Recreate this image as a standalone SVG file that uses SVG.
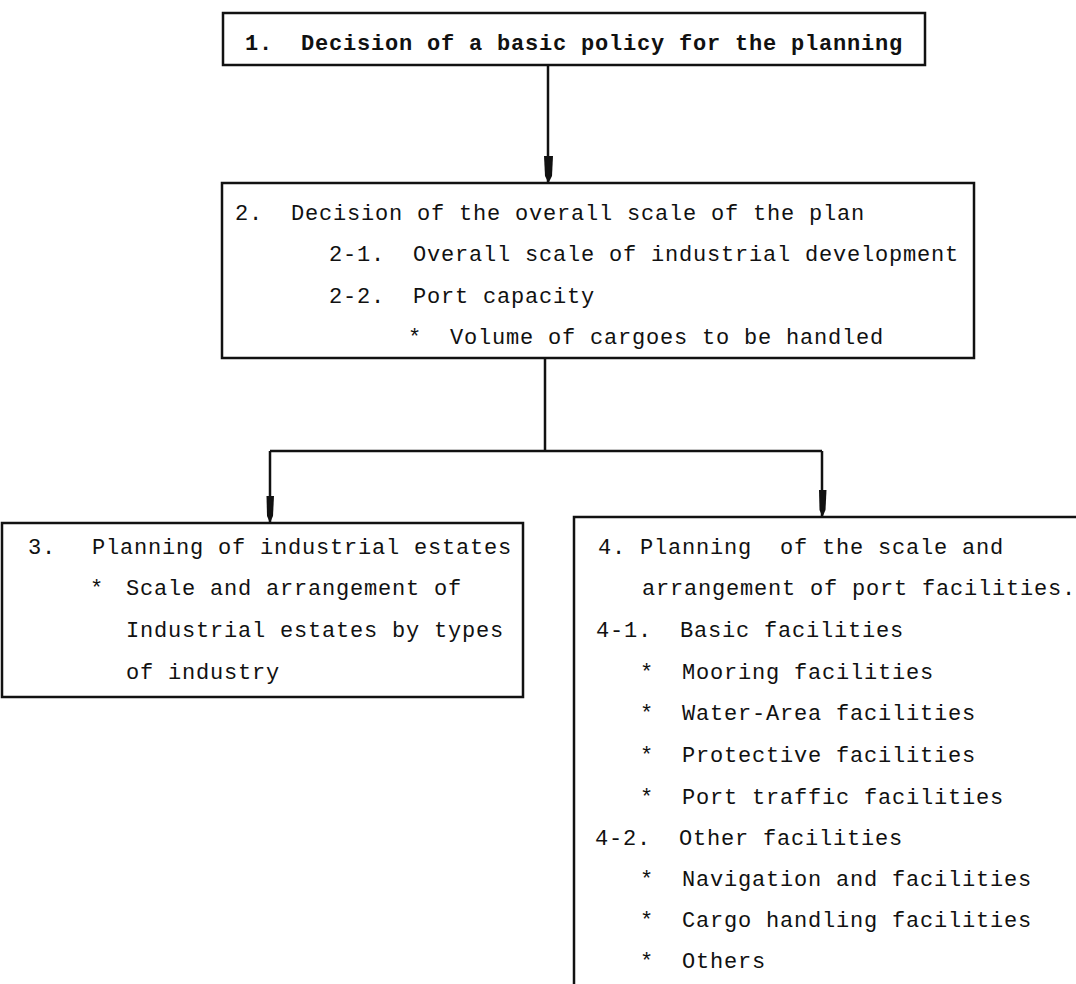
<svg xmlns="http://www.w3.org/2000/svg" width="1076" height="984" viewBox="0 0 1076 984">
<defs>
<style>
.box{fill:none;stroke:#111;stroke-width:2.5}
.con{fill:none;stroke:#111;stroke-width:2.5}
text{font-family:"Liberation Mono","DejaVu Sans Mono",monospace;font-size:22px;letter-spacing:0.8px;fill:#111}
.b{font-weight:bold}
</style>
<marker id="ah" viewBox="-6 -30 12 32" refX="0" refY="0" markerWidth="12" markerHeight="32" markerUnits="userSpaceOnUse" orient="auto-start-reverse">
<path d="M-4.5,-27 H4.5 L3,-5 L0,0 L-3,-5 Z" fill="#111" transform="rotate(-90)"/>
</marker>
</defs>
<rect width="1076" height="984" fill="#fff"/>
<g id="connectors">
<path class="con" d="M548,65 V183"/>
<path class="con" d="M545,358 V451 M270,451 H822 M270,451 V523 M822,451 V517"/>
<path d="M544,156 H553 L552,176 L548.5,183 L545,176 Z" fill="#111"/>
<path d="M266.5,496 H274 L273,516 L270,523 L267,516 Z" fill="#111"/>
<path d="M819,490 H826.5 L825.5,510 L822.5,517 L819.5,510 Z" fill="#111"/>
</g>
<g id="node1">
<rect class="box" x="223" y="13" width="702" height="52"/>
<text class="b" x="245" y="50" xml:space="preserve">1.  Decision of a basic policy for the planning</text>
</g>
<g id="node2">
<rect class="box" x="222" y="183" width="752" height="175"/>
<text x="235" y="220" xml:space="preserve">2.  Decision of the overall scale of the plan</text>
<text x="329" y="261" xml:space="preserve">2-1.  Overall scale of industrial development</text>
<text x="329" y="303" xml:space="preserve">2-2.  Port capacity</text>
<text x="408" y="344" xml:space="preserve">*  Volume of cargoes to be handled</text>
</g>
<g id="node3">
<rect class="box" x="2" y="523" width="521" height="174"/>
<text x="28" y="554">3.</text>
<text x="92" y="554">Planning of industrial estates</text>
<text x="90" y="595">*</text>
<text x="126" y="595">Scale and arrangement of</text>
<text x="126" y="637">Industrial estates by types</text>
<text x="126" y="679">of industry</text>
</g>
<g id="node4">
<path class="box" d="M1080,517 H574 V990"/>
<text x="598" y="554" xml:space="preserve">4. Planning  of the scale and</text>
<text x="642" y="595">arrangement of port facilities.</text>
<text x="596" y="637" xml:space="preserve">4-1.  Basic facilities</text>
<text x="640" y="679" xml:space="preserve">*  Mooring facilities</text>
<text x="640" y="720" xml:space="preserve">*  Water-Area facilities</text>
<text x="640" y="762" xml:space="preserve">*  Protective facilities</text>
<text x="640" y="804" xml:space="preserve">*  Port traffic facilities</text>
<text x="595" y="845" xml:space="preserve">4-2.  Other facilities</text>
<text x="640" y="886" xml:space="preserve">*  Navigation and facilities</text>
<text x="640" y="927" xml:space="preserve">*  Cargo handling facilities</text>
<text x="640" y="968" xml:space="preserve">*  Others</text>
</g>
</svg>
